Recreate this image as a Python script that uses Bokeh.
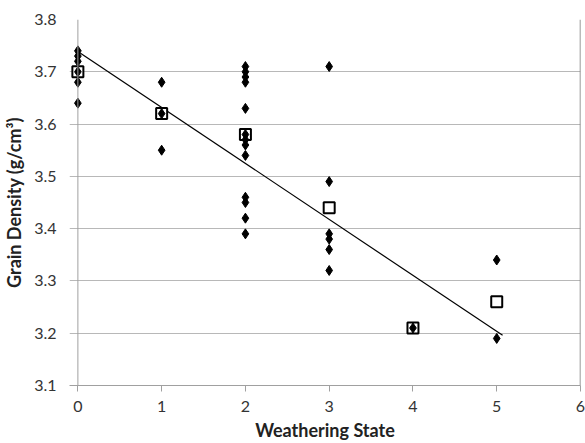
from bokeh.plotting import figure
from bokeh.models import Span, FixedTicker, Range1d
from bokeh.embed import file_html
from bokeh.resources import INLINE

# Individual measurements (diamonds)
x0_vals = [3.74, 3.73, 3.72, 3.70, 3.68, 3.64]
x1_vals = [3.68, 3.62, 3.55]
x2_vals = [3.71, 3.70, 3.69, 3.68, 3.63, 3.58, 3.57, 3.56, 3.54, 3.46, 3.45, 3.42, 3.39]
x3_vals = [3.71, 3.49, 3.39, 3.38, 3.36, 3.32]
x4_vals = [3.21]
x5_vals = [3.34, 3.19]

# Mean per weathering state (squares)
states = [0, 1, 2, 3, 4, 5]
means = [3.70, 3.62, 3.58, 3.44, 3.21, 3.26]

# Trend line endpoints
trend_x = [0, 5.07]
trend_y = [3.739, 3.196]

x_ticks = [0, 1, 2, 3, 4, 5, 6]
y_ticks = [3.1, 3.2, 3.3, 3.4, 3.5, 3.6, 3.7, 3.8]

groups = [x0_vals, x1_vals, x2_vals, x3_vals, x4_vals, x5_vals]
dx, dy = [], []
for s, vals in zip(states, groups):
    for v in vals:
        dx.append(s)
        dy.append(v)

FONT = "Lato"

p = figure(width=585, height=443, output_backend="svg", toolbar_location=None,
           x_range=Range1d(-0.1, 6), y_range=Range1d(3.1, 3.8),
           min_border_left=69, min_border_right=5, min_border_top=19, min_border_bottom=58)
p.outline_line_color = None
p.background_fill_color = "white"
p.border_fill_color = "white"

p.xgrid.grid_line_color = None
p.ygrid.grid_line_color = "#b8b8b8"
p.ygrid.grid_line_width = 1

for ax in (p.xaxis[0], p.yaxis[0]):
    ax.axis_line_color = "#a0a0a0"
    ax.major_tick_line_color = "#a0a0a0"
    ax.major_tick_out = 6
    ax.major_tick_in = 0
    ax.minor_tick_line_color = None
    ax.major_label_text_font = FONT
    ax.major_label_text_font_size = "16px"
    ax.major_label_text_color = "#333333"
    ax.axis_label_text_font = FONT
    ax.axis_label_text_font_style = "bold"
    ax.axis_label_text_font_size = "18px"
    ax.axis_label_text_color = "#222222"

# y axis: gridlines reach the frame edge and act as tick marks; axis line drawn at x=0
p.yaxis.axis_line_color = None
p.yaxis.major_tick_line_color = None
p.yaxis.major_tick_out = 0

p.xaxis.ticker = FixedTicker(ticks=x_ticks)
p.yaxis.ticker = FixedTicker(ticks=y_ticks)
p.yaxis.formatter.use_scientific = False
p.xaxis.axis_label = "Weathering State"
p.yaxis.axis_label = "Grain Density (g/cm³)"
p.xaxis.major_label_standoff = 9
p.yaxis.major_label_standoff = 13
p.xaxis.axis_label_standoff = 4
p.yaxis.axis_label_standoff = 6

p.add_layout(Span(location=0, dimension="height", line_color="#a0a0a0", line_width=1))
p.add_layout(Span(location=6, dimension="height", line_color="#777777", line_width=1.5))

p.line(trend_x, trend_y, line_color="black", line_width=1.2)
p.scatter(states, means, marker="square", size=11, fill_color="white",
          line_color="black", line_width=2)
p.scatter(dx, dy, marker="diamond", size=10, fill_color="black", line_color="black")

open("out.html", "w").write(file_html(p, INLINE))
